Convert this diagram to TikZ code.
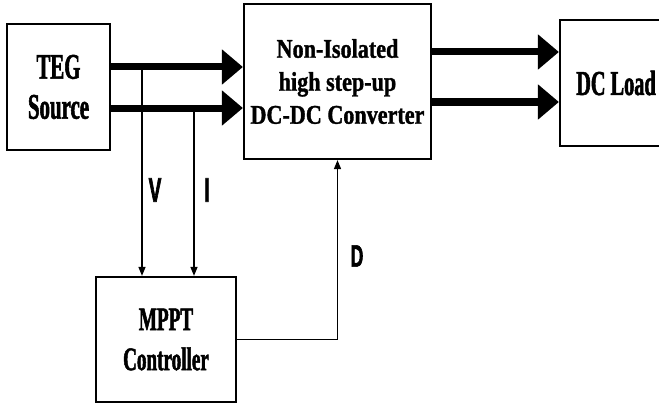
\documentclass[tikz,border=0pt]{standalone}
\usepackage{fontspec}
\newfontfamily\widefont{Liberation Serif}[FakeStretch=0.82, FakeBold=1.2]
\newfontfamily\narrowfont{Liberation Serif}[FakeStretch=0.58, FakeBold=1.5]
\newfontfamily\sigfont{Liberation Sans}[FakeStretch=0.56, FakeBold=1.8]
\usetikzlibrary{arrows.meta, positioning}

\tikzset{
  block/.style={draw, line width=2.2pt, align=center, inner sep=0pt},
  power/.style={line width=7pt, -{Triangle[length=21pt,width=34pt]}},
  sense/.style={line width=1.4pt, -{Triangle[length=9pt,width=7pt]}},
  siglabel/.style={font=\sigfont\bfseries\fontsize{34}{36}\selectfont}
}

\begin{document}
\begin{tikzpicture}[x=1pt, y=-1pt]
\useasboundingbox (0,0) rectangle (659,404);
% blocks
\node (teg) at (58.5,87) [block, minimum width=103pt, minimum height=126pt,
  font=\narrowfont\bfseries\fontsize{36}{40}\selectfont] {TEG\\Source};
\node (conv) at (337.5,81.5) [block, minimum width=187pt, minimum height=155pt,
  font=\widefont\bfseries\fontsize{27}{33}\selectfont] {Non-Isolated\\high step-up\\DC-DC Converter};
\node (load) at (616,83) [block, minimum width=112pt, minimum height=126pt,
  font=\narrowfont\bfseries\fontsize{35}{40}\selectfont] {DC Load};
\node (mppt) at (166,339.5) [block, minimum width=140pt, minimum height=125pt,
  font=\narrowfont\bfseries\fontsize{33}{40}\selectfont] {MPPT\\Controller};
% power paths
\draw [power] ([yshift=20pt]teg.east) -- ([yshift=20pt]teg.east -| conv.west);
\draw [power] ([yshift=-21pt]teg.east) -- ([yshift=-21pt]teg.east -| conv.west);
\draw [power] ([yshift=29.5pt]conv.east) -- ([yshift=29.5pt]conv.east -| load.west);
\draw [power] ([yshift=-20.5pt]conv.east) -- ([yshift=-20.5pt]conv.east -| load.west);
% sensing and duty cycle
\coordinate (vtap) at (142,67);
\coordinate (itap) at (194,108);
\draw [sense] (vtap) -- (vtap |- mppt.north);
\draw [sense] (itap) -- (itap |- mppt.north);
\draw [sense] (mppt.east) -| (conv.south);
\node (vlabel) at (155,190) [siglabel] {V};
\node (ilabel) at (207,190) [siglabel] {I};
\node (dlabel) at (357,256) [siglabel, font=\sigfont\bfseries\fontsize{31}{34}\selectfont] {D};
\end{tikzpicture}
\end{document}
